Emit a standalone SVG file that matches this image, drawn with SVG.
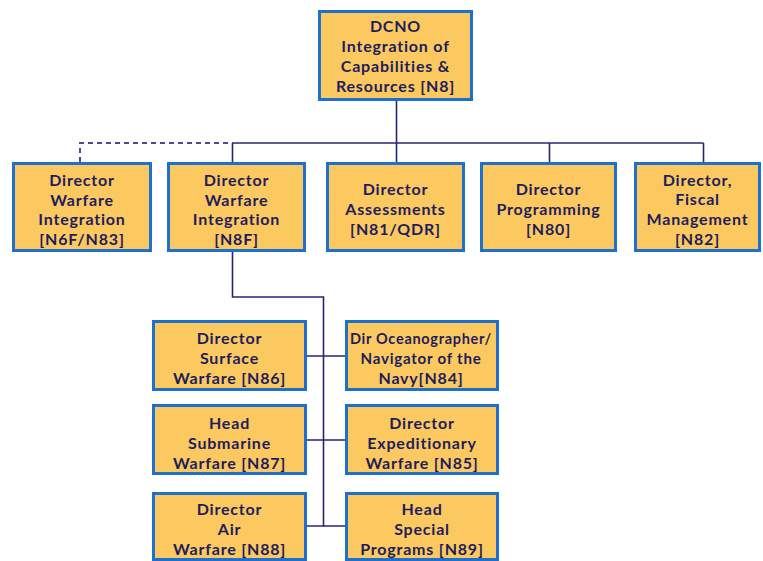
<svg xmlns="http://www.w3.org/2000/svg" width="763" height="561" viewBox="0 0 763 561">
<style>
.box{fill:#fcc860;stroke:#1f6fcc;stroke-width:3}
text{font-family:Lato,"Open Sans","Liberation Sans",sans-serif;font-weight:bold;font-size:16px;letter-spacing:0.8px;fill:#1e1e5c;text-anchor:middle;dominant-baseline:central}
.ln{fill:none;stroke:#24247a;stroke-width:1.6}
.ds{fill:none;stroke:#4a4a98;stroke-width:2;stroke-dasharray:5 4}
</style>
<rect width="763" height="561" fill="#fff"/>
<g id="connectors">
<path class="ln" d="M396.5 101V162"/>
<path class="ln" d="M232 143H703.5"/>
<path class="ln" d="M232.5 143V162M549.5 143V162M703.5 143V162"/>
<path class="ds" d="M80 162V143H232"/>
<path class="ln" d="M232.5 252V297H323.5V526"/>
<path class="ln" d="M307 356H345M307 440H345M307 526H345"/>
</g>
<g id="n8"><rect class="box" x="319.5" y="11.5" width="152" height="88"/>
<text x="395.5" y="25">DCNO</text><text x="395.5" y="45">Integration of</text><text x="395.5" y="65">Capabilities &amp;</text><text x="395.5" y="85">Resources [N8]</text></g>
<g id="n6f"><rect class="box" x="13.5" y="163.5" width="137" height="87"/>
<text x="82" y="179">Director</text><text x="82" y="199">Warfare</text><text x="82" y="218">Integration</text><text x="82" y="238">[N6F/N83]</text></g>
<g id="n8f"><rect class="box" x="168.5" y="163.5" width="136" height="87"/>
<text x="236.5" y="179">Director</text><text x="236.5" y="199">Warfare</text><text x="236.5" y="218">Integration</text><text x="236.5" y="238">[N8F]</text></g>
<g id="n81"><rect class="box" x="327.5" y="163.5" width="136" height="87"/>
<text x="395.5" y="188">Director</text><text x="395.5" y="208">Assessments</text><text x="395.5" y="228">[N81/QDR]</text></g>
<g id="n80"><rect class="box" x="481.5" y="163.5" width="134" height="87"/>
<text x="548.5" y="188">Director</text><text x="548.5" y="208">Programming</text><text x="548.5" y="228">[N80]</text></g>
<g id="n82"><rect class="box" x="635.5" y="163.5" width="124" height="87"/>
<text x="697.5" y="179">Director,</text><text x="697.5" y="198">Fiscal</text><text x="697.5" y="218">Management</text><text x="697.5" y="238">[N82]</text></g>
<g id="n86"><rect class="box" x="153.5" y="321.5" width="152" height="68"/>
<text x="229.5" y="337">Director</text><text x="229.5" y="357">Surface</text><text x="229.5" y="377">Warfare [N86]</text></g>
<g id="n84"><rect class="box" x="346.5" y="321.5" width="151" height="68"/>
<text x="421" y="337" textLength="142" lengthAdjust="spacingAndGlyphs">Dir Oceanographer/</text><text x="421" y="357" textLength="121" lengthAdjust="spacingAndGlyphs">Navigator of the</text><text x="421" y="377">Navy[N84]</text></g>
<g id="n87"><rect class="box" x="153.5" y="405.5" width="152" height="68"/>
<text x="229.5" y="422">Head</text><text x="229.5" y="442">Submarine</text><text x="229.5" y="462">Warfare [N87]</text></g>
<g id="n85"><rect class="box" x="346.5" y="405.5" width="151" height="68"/>
<text x="422" y="422">Director</text><text x="422" y="442">Expeditionary</text><text x="422" y="462">Warfare [N85]</text></g>
<g id="n88"><rect class="box" x="153.5" y="493.5" width="152" height="66"/>
<text x="229.5" y="508">Director</text><text x="229.5" y="528">Air</text><text x="229.5" y="548">Warfare [N88]</text></g>
<g id="n89"><rect class="box" x="346.5" y="493.5" width="151" height="66"/>
<text x="422" y="508">Head</text><text x="422" y="528">Special</text><text x="422" y="548">Programs [N89]</text></g>
</svg>
